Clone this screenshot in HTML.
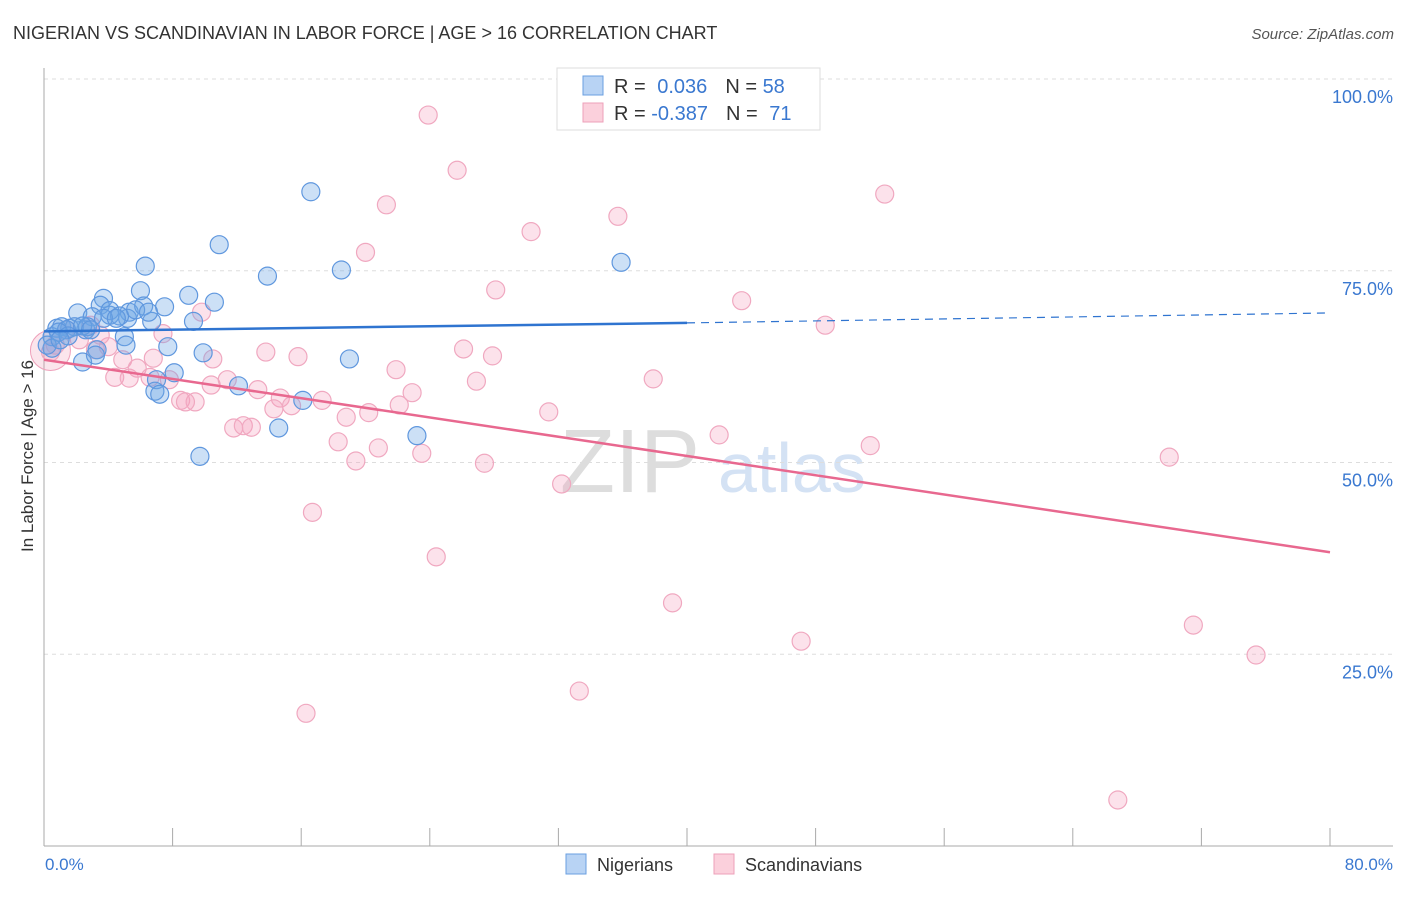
<!DOCTYPE html>
<html><head><meta charset="utf-8"><style>
body{margin:0;background:#fff;font-family:"Liberation Sans",sans-serif}
svg text{font-family:"Liberation Sans",sans-serif}
</style></head><body>
<svg id="c" width="1406" height="892">
<text x="13" y="39" font-size="18" fill="#333">NIGERIAN VS SCANDINAVIAN IN LABOR FORCE | AGE &gt; 16 CORRELATION CHART</text>
<text x="1394" y="39" font-size="15" fill="#555" font-style="italic" text-anchor="end">Source: ZipAtlas.com</text>
<text x="560" y="492" font-size="90" fill="#ddd" font-family="Liberation Serif">ZIP</text>
<text x="718" y="492" font-size="70" fill="#d4e2f4">atlas</text>
<g id="grid"></g><g id="axes"></g><g id="pts"></g><g id="trend"></g>
<text transform="translate(33,456) rotate(-90)" font-size="17" fill="#333" text-anchor="middle">In Labor Force | Age &gt; 16</text>
<text x="45" y="870" font-size="17" fill="#3a78d0">0.0%</text>
<text x="1393" y="870" font-size="17" fill="#3a78d0" text-anchor="end">80.0%</text>
<g>
<rect x="557" y="68" width="263" height="62" fill="#fff" stroke="#ddd"/>
<rect x="583" y="76" width="20" height="19" fill="#b8d3f4" stroke="#6a9fe0"/>
<rect x="583" y="103" width="20" height="19" fill="#fbd0dc" stroke="#eea0ba"/>
<text x="614" y="93" font-size="20" fill="#333">R = <tspan fill="#3a78d0" dx="6">0.036</tspan><tspan dx="18" fill="#333">N = </tspan><tspan fill="#3a78d0">58</tspan></text>
<text x="614" y="120" font-size="20" fill="#333">R = <tspan fill="#3a78d0">-0.387</tspan><tspan dx="18" fill="#333">N = </tspan><tspan fill="#3a78d0" dx="6">71</tspan></text>
</g>
<g>
<rect x="566" y="854" width="20" height="20" fill="#b8d3f4" stroke="#6a9fe0"/>
<text x="597" y="871" font-size="18" fill="#333">Nigerians</text>
<rect x="714" y="854" width="20" height="20" fill="#fbd0dc" stroke="#eea0ba"/>
<text x="745" y="871" font-size="18" fill="#333">Scandinavians</text>
</g>
</svg>
<script>
const yTicks=[25,50,75,100];
const yTickLabels=["25.0%","50.0%","75.0%","100.0%"];
const xTicks=[0,8,16,24,32,40,48,56,64,72,80];
const nigX=[16.6,10.9,6.3,13.9,18.5,35.9,9.0,10.6,6.0,7.5,3.7,2.1,3.5,4.1,5.3,6.2,3.0,5.2,6.7,9.3,4.1,0.8,1.1,1.6,2.6,1.9,2.7,1.4,0.5,5.0,3.3,5.1,7.7,9.9,19.0,2.4,3.2,0.5,8.1,7.0,6.9,7.2,12.1,16.1,14.6,23.2,9.7,4.7,5.7,0.9,0.2,1.5,3.7,2.4,4.5,6.5,1.0,2.9];
const nigY=[85.3,78.4,75.6,74.3,75.1,76.1,71.8,70.9,72.4,70.3,71.4,69.5,70.5,69.2,69.6,70.4,69.0,68.8,68.4,68.4,69.8,67.5,67.7,67.5,67.3,67.7,67.7,67.3,66.4,66.4,64.7,65.3,65.1,64.3,63.5,63.1,64.0,64.9,61.7,60.8,59.3,58.9,60.0,58.1,54.5,53.5,50.8,69.1,69.9,67.0,65.3,66.5,68.8,67.8,68.8,69.6,66.0,67.3];
const scaX=[23.9,25.7,21.3,35.7,30.3,52.3,20.0,28.1,43.4,9.8,48.6,7.4,2.9,13.8,15.8,10.5,26.1,27.9,4.9,3.2,6.8,5.8,4.4,5.3,7.8,6.6,10.4,11.4,13.3,21.9,26.9,37.9,8.5,9.4,8.8,14.7,17.3,22.9,22.1,14.3,15.4,31.4,18.8,20.2,11.8,12.4,12.9,42.0,18.3,20.8,23.5,19.4,27.4,51.4,70.0,32.2,16.7,24.4,39.1,47.1,71.5,75.4,33.3,16.3,66.8,0.7,2.2,4.0,1.4,3.5,0.4];
const scaY=[95.3,88.1,83.6,82.1,80.1,85.0,77.4,72.5,71.1,69.6,67.9,66.8,67.9,64.4,63.8,63.5,64.8,63.9,63.4,64.7,63.6,62.3,61.1,61.0,60.8,61.1,60.1,60.8,59.5,62.1,60.6,60.9,58.1,57.9,57.9,58.4,58.1,59.1,57.5,57.0,57.4,56.6,55.9,56.5,54.5,54.8,54.6,53.6,52.7,51.9,51.2,50.2,49.9,52.2,50.7,47.2,43.5,37.7,31.7,26.7,28.8,24.9,20.2,17.3,6.0,65.3,66.0,65.1,67.3,66.6,64.4];
const nigTrend=[67.1,68.2,69.5]; // at x=0,40,80
const scaTrend=[63.4,38.3]; // at x=0,80
const X=v=>44+v*16.075, Y=v=>846-v*7.67;
const NS="http://www.w3.org/2000/svg";
function mk(tag,attrs,parent){const e=document.createElementNS(NS,tag);for(const k in attrs)e.setAttribute(k,attrs[k]);document.getElementById(parent).appendChild(e);return e;}
yTicks.forEach((t,i)=>{
 const l=mk('line',{x1:44,x2:1393,y1:Y(t),y2:Y(t),stroke:'#ddd','stroke-dasharray':'4,4'},'grid');
 
 
 const tx=mk('text',{x:1393,y:Y(t)+24,'font-size':18,fill:'#3a78d0','text-anchor':'end'},'grid');
 tx.textContent=yTickLabels[i];
 
 
});
const ya=mk('line',{x1:44,x2:44,y1:68,y2:846,stroke:'#aaa'},'axes');


const xa=mk('line',{x1:44,x2:1393,y1:846,y2:846,stroke:'#aaa'},'axes');


xTicks.forEach(t=>{
 const l=mk('line',{x1:X(t),x2:X(t),y1:828,y2:846,stroke:'#aaa'},'axes');
 
 
});
const big=mk('circle',{cx:X(0.4),cy:Y(64.6),r:20,fill:'rgba(240,150,180,0.25)',stroke:'#eea0ba'},'pts');


scaX.forEach((v,i)=>{
 const c=mk('circle',{cx:X(v),cy:Y(scaY[i]),r:9,fill:'rgba(245,160,190,0.3)',stroke:'#f0a8c0','stroke-width':1.2},'pts');
 
 
});
nigX.forEach((v,i)=>{
 const c=mk('circle',{cx:X(v),cy:Y(nigY[i]),r:9,fill:'rgba(110,165,230,0.35)',stroke:'#5f97de','stroke-width':1.2},'pts');
 
 
});
const t1=mk('line',{x1:X(0),y1:Y(nigTrend[0]),x2:X(40),y2:Y(nigTrend[1]),stroke:'#2f74d0','stroke-width':2.5},'trend');


const t2=mk('line',{x1:X(40),y1:Y(nigTrend[1]),x2:X(80),y2:Y(nigTrend[2]),stroke:'#2f74d0','stroke-width':1.2,'stroke-dasharray':'8,6'},'trend');


const t3=mk('line',{x1:X(0),y1:Y(scaTrend[0]),x2:X(80),y2:Y(scaTrend[1]),stroke:'#e8688f','stroke-width':2.5},'trend');


</script>
</body></html>
